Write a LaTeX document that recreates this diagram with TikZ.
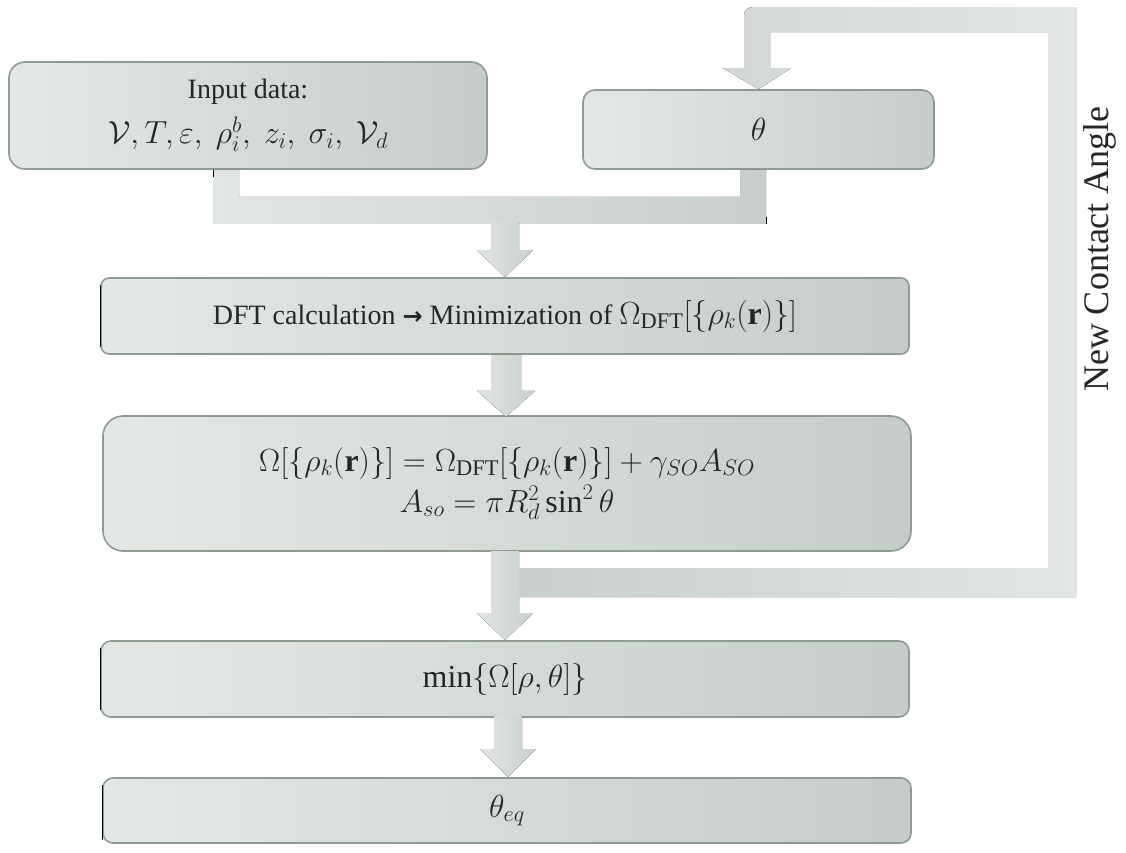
\RequirePackage{fix-cm}
\documentclass[tikz,border=0pt]{standalone}
\usepackage{amsmath}
\usepackage{fontspec}
\setmainfont{Liberation Serif}
\newfontfamily\arrowfont{DejaVu Sans}
\usetikzlibrary{calc}
\definecolor{boxL}{HTML}{E4E8E5}
\definecolor{boxR}{HTML}{C6CDC8}
\definecolor{boxD}{HTML}{8D9B92}
\definecolor{arrL}{HTML}{E2E6E3}
\definecolor{arrD}{HTML}{C8CFCA}
\definecolor{txt}{HTML}{262626}
\newcommand{\mymath}[1]{{\fontsize{32}{34}\selectfont$#1$}}
\tikzset{
  fbox/.style={draw=boxD, line width=1.6pt, left color=boxL, right color=boxR,
    text=txt, align=center, inner sep=0pt, font=\fontsize{28}{30}\selectfont},
  fat/.style={left color=arrL, right color=arrD, draw=none},
  fatr/.style={left color=arrD, right color=arrL, draw=none},
  tick/.style={black, line width=1pt}
}
\begin{document}
\begin{tikzpicture}[x=1pt,y=-1pt]
\useasboundingbox (0,0) rectangle (1126,852);

% boxes
\node[fbox, rounded corners=16pt, minimum width=478pt, minimum height=107pt] (in) at (248,115.5)
  {Input data:\\[11pt] \mymath{\mathcal{V}, T, \varepsilon,\ \rho_i^b,\ z_i,\ \sigma_i,\ \mathcal{V}_d}};
\node[fbox, rounded corners=12pt, minimum width=351pt, minimum height=79pt] (th) at (758.5,129.5) {\mymath{\theta}};
\node[fbox, rounded corners=8pt, minimum width=808pt, minimum height=76pt] (dft) at (505,316)
  {DFT calculation {\arrowfont\bfseries\fontsize{24}{28}\selectfont →} Minimization of \mymath{\Omega_{\mathrm{DFT}}[\{\rho_k(\mathbf{r})\}]}};
\node[fbox, rounded corners=20pt, minimum width=808pt, minimum height=135pt] (om) at (507,483.5)
  {\mymath{\Omega[\{\rho_k(\mathbf{r})\}] = \Omega_{\mathrm{DFT}}[\{\rho_k(\mathbf{r})\}] + \gamma_{SO}A_{SO}}\\[5pt]
   \mymath{A_{so} = \pi R_d^2 \sin^2\theta}};
\node[fbox, rounded corners=10pt, minimum width=808pt, minimum height=76pt] (mn) at (505,679)
  {\mymath{\min\{\Omega[\rho,\theta]\}}};
\node[fbox, rounded corners=10pt, minimum width=808pt, minimum height=65pt] (eq) at (507,810.5)
  {\mymath{\theta_{eq}}};

% label of the feedback loop
\node[rotate=90, text=txt, font=\fontsize{36}{40}\selectfont] (lbl) at (1100,249) {New Contact Angle};

% merge connector from input and theta
\fill[fat] ($(in.south)+(-35,0)$) -- ($(in.south)+(-35,54)$) -- ($(th.south)+(7.5,54)$)
  -- ($(th.south)+(7.5,0)$) -- ($(th.south)+(-18.5,0)$) -- ($(th.south)+(-18.5,27)$)
  -- ($(in.south)+(-9,27)$) -- ($(in.south)+(-9,0)$) -- cycle;
% down arrow to DFT
\fill[fat] ($(dft.north)+(-14,-55)$) -- ($(dft.north)+(-14,-27)$) -- ($(dft.north)+(-28,-27)$)
  -- (dft.north) -- ($(dft.north)+(28,-27)$) -- ($(dft.north)+(14,-27)$)
  -- ($(dft.north)+(14,-55)$) -- cycle;
% DFT -> Omega
\fill[fat] ($(dft.south)+(-14,0)$) -- ($(dft.south)+(-14,36)$) -- ($(dft.south)+(-28,36)$)
  -- ($(dft.south)+(1,62)$) -- ($(dft.south)+(30,36)$) -- ($(dft.south)+(16,36)$)
  -- ($(dft.south)+(16,0)$) -- cycle;
% Omega -> min
\fill[fat] ($(mn.north)+(-14,-89)$) -- ($(mn.north)+(-14,-27)$) -- ($(mn.north)+(-28,-27)$)
  -- (mn.north) -- ($(mn.north)+(28,-27)$) -- ($(mn.north)+(14,-27)$)
  -- ($(mn.north)+(14,-89)$) -- cycle;
% min -> theta_eq
\fill[fat] ($(eq.north)+(-13,-61)$) -- ($(eq.north)+(-13,-28)$) -- ($(eq.north)+(-27,-28)$)
  -- ($(eq.north)+(1,0)$) -- ($(eq.north)+(29,-28)$) -- ($(eq.north)+(15,-28)$)
  -- ($(eq.north)+(15,-61)$) -- cycle;
% feedback loop: from below Omega back to theta
\fill[fatr] ($(mn.north)+(14,-72)$) -- ($(mn.north)+(543,-72)$) -- ($(th.north)+(289.5,-57)$)
  -- ($(th.north)+(11.5,-57)$) -- ($(th.north)+(11.5,-21)$) -- ($(th.north)+(32.5,-21)$)
  -- (th.north) -- ($(th.north)+(-35.5,-21)$) -- ($(th.north)+(-14.5,-21)$)
  -- ($(th.north)+(-14.5,-74)$) [rounded corners=8pt] -- ($(th.north)+(-14.5,-82)$)
  [sharp corners] -- ($(th.north)+(317.5,-82)$) -- ($(mn.north)+(571,-43)$)
  -- ($(mn.north)+(14,-43)$) -- cycle;

% small dark marks
\draw[tick] ($(in.south)+(-35,0)$) -- ($(in.south)+(-35,7)$);
\draw[tick] ($(th.south)+(7.5,47)$) -- ($(th.south)+(7.5,54)$);
\draw[tick] ([yshift=-8pt]dft.north west) -- ([yshift=8pt]dft.south west);
\draw[tick] ([yshift=-8pt]mn.north west) -- ([yshift=8pt]mn.south west);
\draw[tick] ([yshift=-8pt]eq.north west) -- ([yshift=4pt]eq.south west);
\end{tikzpicture}
\end{document}
